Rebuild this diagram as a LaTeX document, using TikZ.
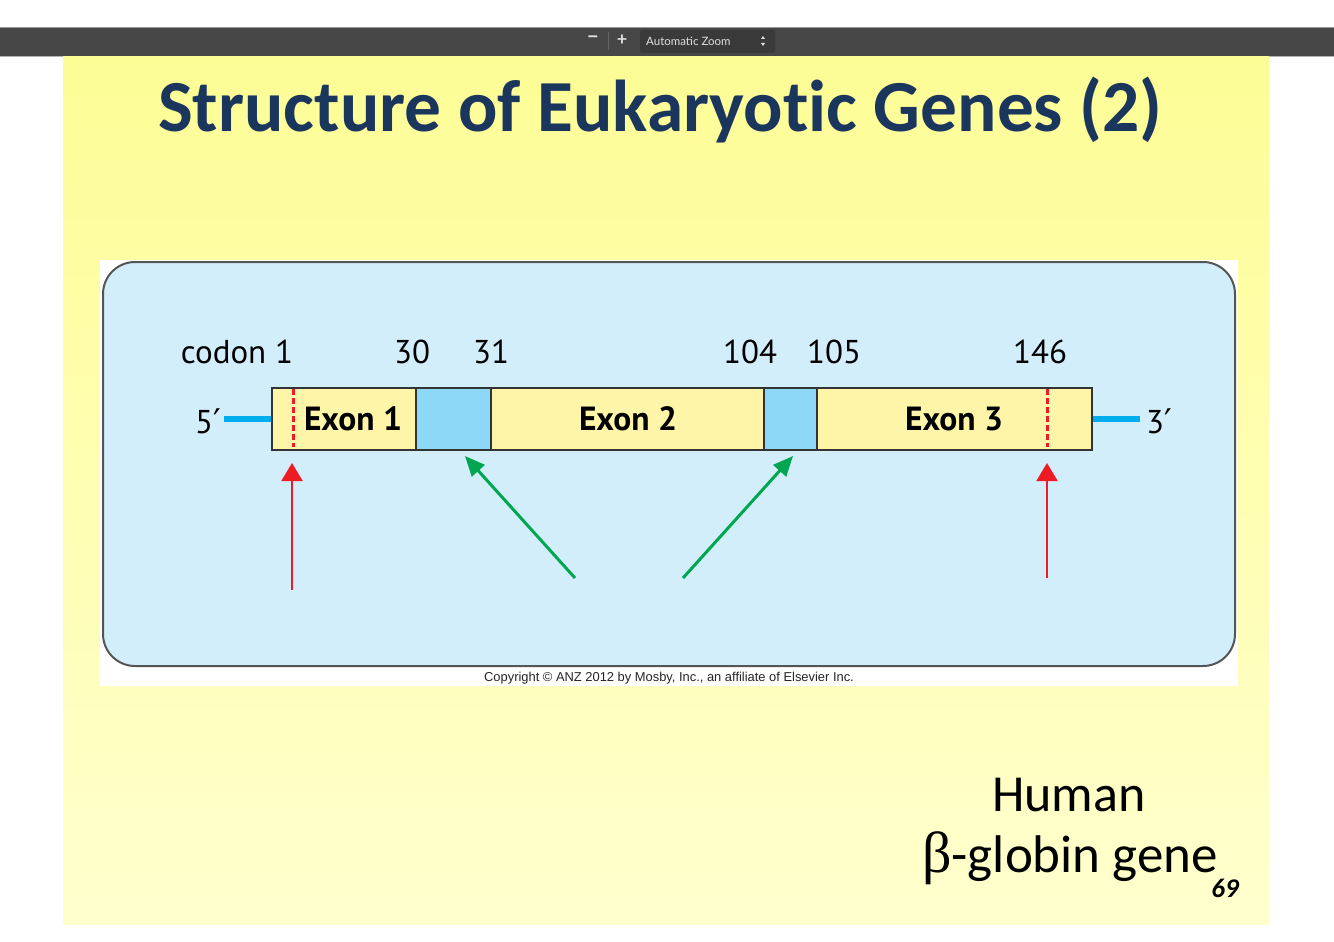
\documentclass[tikz,border=0pt]{standalone}
\usepackage{fontspec}
\setmainfont[Ligatures={NoCommon}]{Carlito}
\newfontfamily\myriad{PT Sans}
\newfontfamily\primef{DejaVu Sans}
\newfontfamily\arialf{Liberation Sans}
\newfontfamily\toolf{Lato}
\newfontfamily\betaf{Liberation Serif}
\usetikzlibrary{arrows.meta}
\definecolor{toolbar}{HTML}{474747}
\definecolor{toolbox}{HTML}{3A3A3A}
\definecolor{slidetop}{HTML}{FDFD96}
\definecolor{slidemid}{HTML}{FFFFB8}
\definecolor{slidebot}{HTML}{FFFFCE}
\definecolor{titleblue}{HTML}{1B365D}
\definecolor{bgblue}{HTML}{D3EEFB}
\definecolor{boxborder}{HTML}{555555}
\definecolor{exonyellow}{HTML}{FFF5A8}
\definecolor{intronblue}{HTML}{8DD7F7}
\definecolor{cyanline}{HTML}{00AEEF}
\definecolor{redarr}{HTML}{ED1C24}
\definecolor{greenarr}{HTML}{00A651}
\definecolor{barborder}{HTML}{333333}
\tikzset{
  exonbox/.style={draw=barborder, line width=2pt, fill=exonyellow, minimum height=62pt, inner sep=0pt, anchor=north west},
  intronbox/.style={draw=barborder, line width=2pt, fill=intronblue, minimum height=62pt, inner sep=0pt, anchor=north west},
  numlabel/.style={font=\myriad\fontsize{33}{33}\selectfont, text=black, inner sep=0pt},
  exonlabel/.style={font=\myriad\bfseries\fontsize{33.5}{33}\selectfont, text=black, inner sep=0pt},
  endline/.style={draw=cyanline, line width=5.5pt},
  reddash/.style={draw=redarr, line width=3pt, dash pattern=on 6pt off 3pt},
  redarrow/.style={draw=redarr, line width=2pt, -{Triangle[length=18pt,width=21pt]}},
  greenarrow/.style={draw=greenarr, line width=3pt, -{Triangle[length=20pt,width=17pt]}},
  tooltext/.style={text=black!12, inner sep=0pt}
}
\begin{document}
\begin{tikzpicture}[x=1pt,y=-1pt]
\useasboundingbox (0,0) rectangle (1334,942);
\fill[white] (0,0) rectangle (1334,942);
% toolbar
\fill[toolbar] (0,27) rectangle (1334,57);
\draw[black!40, line width=1pt] (0,27.5) -- (1334,27.5);
\draw[black!30, line width=1pt] (0,56.5) -- (1334,56.5);
\node[tooltext, font=\toolf\bfseries\fontsize{20}{20}\selectfont] (minus) at (593,40) {−};
\draw[black!60, line width=1pt] (608,32) -- (608,50);
\node[tooltext, font=\toolf\bfseries\fontsize{18}{18}\selectfont] (plus) at (622,40) {+};
\draw[draw=black!75, fill=toolbox, rounded corners=2pt] (640,30) rectangle (775,53);
\node[tooltext, font=\toolf\fontsize{11.5}{12}\selectfont, anchor=west] (zoomtxt) at (646,41.5) {Automatic Zoom};
\fill[black!12] (761,39) -- (765,39) -- (763,36) -- cycle;
\fill[black!12] (761,43) -- (765,43) -- (763,46) -- cycle;
% slide
\shade[top color=slidetop, middle color=slidemid, bottom color=slidebot] (63,57) rectangle (1269,924);
\node[font=\bfseries\fontsize{73.4}{80}\selectfont, text=titleblue, anchor=base, inner sep=0pt] (title) at (660.5,131) {Structure of Eukaryotic Genes (2)};
% figure
\fill[white] (100,260) rectangle (1238,686);
\draw[draw=boxborder, line width=2pt, fill=bgblue, rounded corners=32pt] (103,262) rectangle (1235,666);
\node[font=\arialf\fontsize{12.9}{13}\selectfont, text=black!85, inner sep=0pt] (copy) at (669,678) {Copyright © ANZ 2012 by Mosby, Inc., an affiliate of Elsevier Inc.};
% gene bar
\node[exonbox, minimum width=144pt] (ex1) at (271,387) {};
\node[intronbox, minimum width=75pt] (in1) at (415,387) {};
\node[exonbox, minimum width=273pt] (ex2) at (490,387) {};
\node[intronbox, minimum width=53pt] (in2) at (763,387) {};
\node[exonbox, minimum width=275pt] (ex3) at (816,387) {};
\draw[reddash] (293,389) -- (293,447);
\draw[reddash] (1047,389) -- (1047,447);
\node[exonlabel] (lex1) at (353,419) {Exon 1};
\node[exonlabel] (lex2) at (628,419) {Exon 2};
\node[exonlabel] (lex3) at (954,419) {Exon 3};
% ends
\node[numlabel, anchor=east] (five) at (221,421) {5{\primef\fontsize{34}{34}\selectfont ′}};
\node[numlabel, anchor=west] (three) at (1146,421) {3{\primef\fontsize{34}{34}\selectfont ′}};
\coordinate (fiveend) at (224,419);
\coordinate (threeend) at (1140,419);
\draw[endline] (fiveend) -- (fiveend -| ex1.west);
\draw[endline] (ex3.east |- threeend) -- (threeend);
% codon labels
\node[numlabel] (c1) at (237,352) {codon 1};
\node[numlabel] (c30) at (412,352) {30};
\node[numlabel] (c31) at (491,352) {31};
\node[numlabel] (c104) at (750,352) {104};
\node[numlabel] (c105) at (834,352) {105};
\node[numlabel] (c146) at (1040,352) {146};
% arrows
\coordinate (r1s) at (292,590);
\coordinate (r1t) at (292,463);
\coordinate (r2s) at (1047,578);
\coordinate (r2t) at (1047,463);
\coordinate (g1s) at (575,578);
\coordinate (g1t) at (465,456);
\coordinate (g2s) at (683,578);
\coordinate (g2t) at (793,456);
\draw[redarrow] (r1s) -- (r1t);
\draw[redarrow] (r2s) -- (r2t);
\draw[greenarrow] (g1s) -- (g1t);
\draw[greenarrow] (g2s) -- (g2t);
% caption
\node[font=\fontsize{52}{60}\selectfont, anchor=base, inner sep=0pt] (human) at (1069,811) {Human};
\node[font=\fontsize{53}{60}\selectfont, anchor=base west, inner sep=0pt] (gene) at (922,872) {{\betaf\fontsize{58}{60}\selectfont β}-globin gene};
\node[font=\bfseries\itshape\fontsize{27}{27}\selectfont, anchor=base, inner sep=0pt] (pnum) at (1225,897) {69};
\end{tikzpicture}
\end{document}
